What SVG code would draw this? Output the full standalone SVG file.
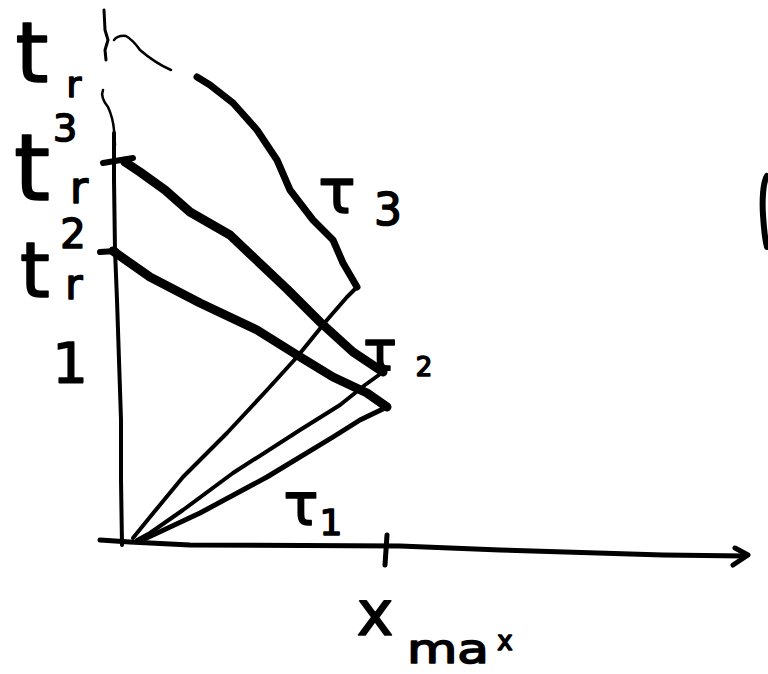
<svg xmlns="http://www.w3.org/2000/svg" width="768" height="674" viewBox="0 0 768 674">
<style>
.s{fill:none;stroke:#000;stroke-linecap:round;stroke-linejoin:round}
.t{font-family:"DejaVu Sans",sans-serif;fill:#000;stroke:#000;stroke-width:1.6;stroke-linejoin:round;text-anchor:middle}
</style>
<rect width="768" height="674" fill="#fff"/>
<g id="axes">
<path class="s" stroke-width="3" d="M104,10 L105,30 L108,40 L105,50 L106,60"/>
<path class="s" stroke-width="2.5" d="M114,40 Q118,35 126,36 Q133,40 140,50 Q155,63 171,70"/>
<path class="s" stroke-width="2.5" d="M103,90 Q100,97 108,107 Q113,118 114,130 L115,145"/>
<path class="s" stroke-width="4" d="M114,133 L114,180 L115,250 L117,300 L119,360 L121,420 L121,480 L122,545"/>
<path class="s" stroke-width="6" d="M103,163 L133,158"/>
<path class="s" stroke-width="6" d="M100,252 L116,251"/>
<path class="s" stroke-width="5" d="M100,540 L130,542 L190,545 L400,546 L500,550 L663,555 L745,556"/>
<path class="s" stroke-width="5" d="M735,548 L748,555 L733,565"/>
<path class="s" stroke-width="5" d="M387,535 L385,565"/>
</g>
<g id="curves">
<path class="s" stroke-width="9" d="M125,162 L140,172 L165,190 L190,212 L230,235 L250,254 L287,289 L320,322 L353,352 L383,372"/>
<path class="s" stroke-width="4" d="M383,372 L365,385 L340,405 L300,430 L233,473 L183,510 L150,533 L137,540"/>
<path class="s" stroke-width="9" d="M113,251 L150,277 L200,303 L257,330 L297,355 L333,377 L367,393 L387,407"/>
<path class="s" stroke-width="5" d="M387,407 L360,420 L333,437 L267,477 L200,513 L153,535 L140,541"/>
<path class="s" stroke-width="7" d="M197,77 L210,85 L233,103 L257,130 L277,160 L290,190 L313,220 L333,240 L343,263 L357,287"/>
<path class="s" stroke-width="4" d="M357,287 L347,297 L327,320 L297,357 L267,390 L227,433 L183,477 L150,517 L133,538"/>
<path class="s" stroke-width="6" d="M767,176 C763,182 762,200 763,215 C764,230 765,240 767,247"/>
</g>
<g id="labels">
<text class="t" x="32" y="82" font-size="84">t</text>
<text class="t" x="74" y="97" font-size="36">r</text>
<text class="t" x="65" y="141" font-size="38">3</text>
<text class="t" x="32" y="200" font-size="92">t</text>
<text class="t" x="79" y="203" font-size="44">r</text>
<text class="t" x="73" y="248" font-size="40">2</text>
<text class="t" x="35" y="297" font-size="76">t</text>
<text class="t" x="74" y="299" font-size="42">r</text>
<text class="t" x="70" y="382" font-size="56">1</text>
<text class="t" x="337" y="213" font-size="62">τ</text>
<text class="t" x="388" y="225" font-size="44">3</text>
<text class="t" x="380" y="370" font-size="56">τ</text>
<text class="t" x="424" y="376" font-size="26">2</text>
<text class="t" x="301" y="525" font-size="58">τ</text>
<text class="t" x="331" y="535" font-size="36">1</text>
<text class="t" x="375" y="635" font-size="62">x</text>
<text class="t" x="448" y="663" font-size="40" textLength="82" lengthAdjust="spacingAndGlyphs">ma</text>
<text class="t" x="505" y="650" font-size="26">x</text>
</g>
</svg>
